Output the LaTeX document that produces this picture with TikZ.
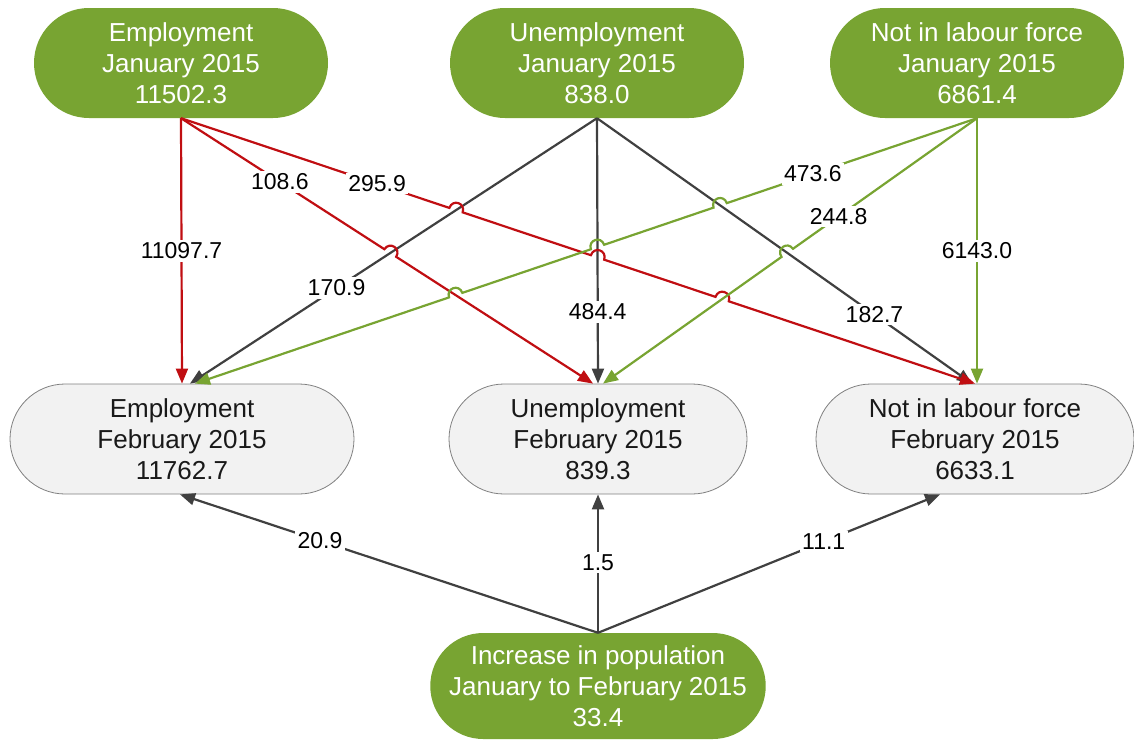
\documentclass[tikz,border=0pt]{standalone}
\usepackage{fontspec}
\setmainfont{Liberation Sans}
\usetikzlibrary{arrows.meta,calc,shapes.misc}
\definecolor{gfill}{RGB}{120,164,50}
\definecolor{lgreen}{RGB}{120,164,50}
\definecolor{lred}{RGB}{192,14,18}
\definecolor{lgrey}{RGB}{64,64,64}
\definecolor{nfill}{RGB}{242,242,242}
\definecolor{nborder}{RGB}{128,128,128}
\begin{document}
\begin{tikzpicture}[x=1pt,y=-1pt,
  topbox/.style={rounded rectangle, fill=gfill, text=white, minimum height=110pt, inner sep=0pt, align=center, font=\fontsize{26}{31}\selectfont},
  botbox/.style={rounded rectangle, fill=nfill, draw=nborder, line width=0.8pt, text=black!90, minimum height=110pt, inner sep=0pt, align=center, font=\fontsize{26}{31}\selectfont},
  lab/.style={fill=white, inner sep=2.5pt, text=black, font=\fontsize{23}{25}\selectfont},
  conn/.style={line width=2.2pt, -{Triangle[length=15pt,width=12pt]}},
  redl/.style={conn, draw=lred},
  greyl/.style={conn, draw=lgrey},
  greenl/.style={conn, draw=lgreen},
  hopup/.style={bend left=90, looseness=1.8},
  hopdn/.style={bend right=90, looseness=1.8}]
\useasboundingbox (0,0) rectangle (1134,745);

% nodes
\node[topbox, minimum width=294pt] (ej) at (181,63) {Employment\\January 2015\\11502.3};
\node[topbox, minimum width=294pt] (uj) at (597,63) {Unemployment\\January 2015\\838.0};
\node[topbox, minimum width=294pt] (nj) at (977,63) {Not in labour force\\January 2015\\6861.4};
\node[botbox, minimum width=344pt] (ef) at (182,439) {Employment\\February 2015\\11762.7};
\node[botbox, minimum width=298pt] (uf) at (598,439) {Unemployment\\February 2015\\839.3};
\node[botbox, minimum width=318pt] (nf) at (975,439) {Not in labour force\\February 2015\\6633.1};
\node[topbox, minimum width=322pt, minimum height=106pt] (ip) at (598,686) {Increase in population\\January to February 2015\\33.4};

% anchor points
\coordinate (ejS) at (ej.south);
\coordinate (ujS) at (uj.south);
\coordinate (njS) at (nj.south);
\coordinate (efR) at (ef.north);
\coordinate (efK) at ($(ef.north)+(8,0)$);
\coordinate (efG) at ($(ef.north)+(13,0)$);
\coordinate (ufR) at ($(uf.north)+(-5,0)$);
\coordinate (ufK) at (uf.north);
\coordinate (ufG) at ($(uf.north)+(5,0)$);
\coordinate (nfR) at (nf.north);
\coordinate (nfK) at ($(nf.north)+(-3,0)$);
\coordinate (nfG) at ($(nf.north)+(2,0)$);
\coordinate (ipN) at (ip.north);
\coordinate (efB) at ($(ef.south)+(-2,0)$);
\coordinate (nfB) at ($(nf.south)+(-35,0)$);

% crossings
\coordinate (rA) at (intersection of ejS--ufR and ujS--efK);
\coordinate (rB1) at (intersection of ejS--nfR and ujS--efK);
\coordinate (rB2) at (intersection of ejS--nfR and ujS--ufK);
\coordinate (rB3) at (intersection of ejS--nfR and njS--ufG);
\coordinate (gA1) at (intersection of njS--efG and ujS--nfK);
\coordinate (gA2) at (intersection of njS--efG and ujS--ufK);
\coordinate (gA3) at (intersection of njS--efG and ejS--ufR);
\coordinate (gB) at (intersection of njS--ufG and ujS--nfK);

% grey flows from unemployment
\draw[greyl] (ujS) -- (efK);
\draw[greyl] (ujS) -- (ufK);
\draw[greyl] (ujS) -- (nfK);

% red flows from employment
\draw[redl] (ejS) -- (efR);
\draw[redl] (ejS) -- ($(rA)!7pt!(ejS)$) to[hopup] ($(rA)!7pt!(ufR)$) -- (ufR);
\draw[redl] (ejS) -- ($(rB1)!7pt!(ejS)$) to[hopup] ($(rB1)!7pt!(nfR)$)
  -- ($(rB2)!7pt!(ejS)$) to[hopup] ($(rB2)!7pt!(nfR)$)
  -- ($(rB3)!7pt!(ejS)$) to[hopup] ($(rB3)!7pt!(nfR)$) -- (nfR);

% green flows from not in labour force
\draw[greenl] (njS) -- ($(gA1)!7pt!(njS)$) to[hopdn] ($(gA1)!7pt!(efG)$)
  -- ($(gA2)!7pt!(njS)$) to[hopdn] ($(gA2)!7pt!(efG)$)
  -- ($(gA3)!7pt!(njS)$) to[hopdn] ($(gA3)!7pt!(efG)$) -- (efG);
\draw[greenl] (njS) -- ($(gB)!7pt!(njS)$) to[hopdn] ($(gB)!7pt!(ufG)$) -- (ufG);
\draw[greenl] (njS) -- (nfG);

% population increase
\draw[greyl] (ipN) -- (efB);
\draw[greyl] (ipN) -- (uf.south);
\draw[greyl] (ipN) -- (nfB);

% labels
\path (ejS) -- (efR) node[lab, pos=0.5] {11097.7};
\path (ejS) -- (ufR) node[lab, pos=0.24] {108.6};
\path (ejS) -- (nfR) node[lab, pos=0.247] {295.9};
\path (ujS) -- (efK) node[lab, pos=0.64] {170.9};
\path (ujS) -- (ufK) node[lab, pos=0.73] {484.4};
\path (ujS) -- (nfK) node[lab, pos=0.74] {182.7};
\path (njS) -- (efG) node[lab, pos=0.21] {473.6};
\path (njS) -- (ufG) node[lab, pos=0.37] {244.8};
\path (njS) -- (nfG) node[lab, pos=0.5] {6143.0};
\path (ipN) -- (efB) node[lab, pos=0.665] {20.9};
\path (ipN) -- (uf.south) node[lab, pos=0.51] {1.5};
\path (ipN) -- (nfB) node[lab, pos=0.66] {11.1};
\end{tikzpicture}
\end{document}
